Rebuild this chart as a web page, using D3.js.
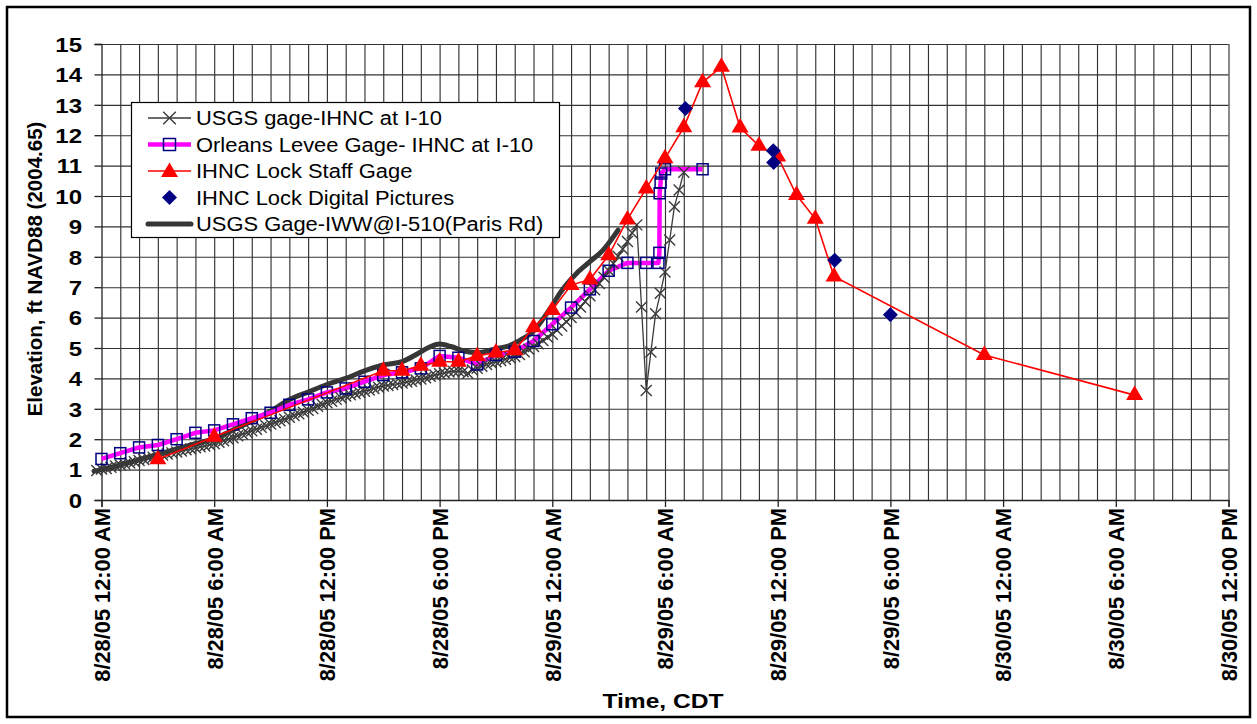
<!DOCTYPE html>
<html>
<head>
<meta charset="utf-8">
<script src="https://cdn.jsdelivr.net/npm/d3@7"></script>
<style>
  html, body { margin: 0; padding: 0; background: #fff; }
  svg { display: block; font-family: "Liberation Sans", Arial, sans-serif; }
</style>
</head>
<body>
<svg id="chart" width="1257" height="724"></svg>
<script>
// ---------------- DATA (hours after 8/28/05 12:00 AM CDT, elevation ft) ----------------
const seriesNames = [
  "USGS gage-IHNC at I-10",
  "Orleans Levee Gage- IHNC at I-10",
  "IHNC Lock Staff Gage",
  "IHNC Lock Digital Pictures",
  "USGS Gage-IWW@I-510(Paris Rd)"
];

const usgsIhnc = [
  [-0.25,0.97],[0,1.02],[0.25,1.04],[0.5,1.08],[0.75,1.12],[1,1.15],[1.25,1.18],[1.5,1.22],[1.75,1.26],
  [2,1.30],[2.25,1.33],[2.5,1.37],[2.75,1.41],[3,1.45],[3.25,1.48],[3.5,1.51],[3.75,1.55],
  [4,1.58],[4.25,1.61],[4.5,1.65],[4.75,1.68],[5,1.72],[5.25,1.75],[5.5,1.78],[5.75,1.82],
  [6,1.85],[6.25,1.90],[6.5,1.95],[6.75,2.00],[7,2.05],[7.25,2.11],[7.5,2.17],[7.75,2.22],
  [8,2.28],[8.25,2.33],[8.5,2.39],[8.75,2.44],[9,2.50],[9.25,2.55],[9.5,2.61],[9.75,2.66],
  [10,2.72],[10.25,2.78],[10.5,2.84],[10.75,2.89],[11,2.95],[11.25,3.01],[11.5,3.08],[11.75,3.14],
  [12,3.20],[12.25,3.25],[12.5,3.31],[12.75,3.36],[13,3.42],[13.25,3.46],[13.5,3.50],[13.75,3.54],
  [14,3.58],[14.25,3.62],[14.5,3.67],[14.75,3.71],[15,3.75],[15.25,3.77],[15.5,3.80],[15.75,3.82],
  [16,3.85],[16.25,3.88],[16.5,3.91],[16.75,3.95],[17,3.98],[17.25,4.02],[17.5,4.07],[17.75,4.11],
  [18,4.15],[18.25,4.18],[18.5,4.21],[18.75,4.23],[19,4.24],[19.25,4.22],[19.5,4.17],[19.75,4.28],
  [20,4.33],[20.25,4.40],[20.5,4.46],[20.75,4.51],[21,4.55],[21.25,4.59],[21.5,4.63],[21.75,4.68],
  [22,4.72],[22.25,4.79],[22.5,4.88],[22.75,4.96],[23,5.05],[23.25,5.14],[23.5,5.25],[23.75,5.35],
  [24,5.45],[24.25,5.58],[24.5,5.72],[24.75,5.86],[25,6.00],[25.25,6.17],[25.5,6.35],[25.75,6.53],
  [26,6.72],[26.25,6.92],[26.5,7.12],[26.75,7.33],[27,7.55],[27.25,7.78],[27.5,8.02],[27.75,8.26],
  [28,8.50],[28.25,8.78],[28.5,9.05],[28.75,6.35],[29,3.60],[29.25,4.87],[29.5,6.13],[29.75,6.80],
  [30,7.50],[30.25,8.55],[30.5,9.65],[30.75,10.20],[31,10.78]
];

const orleansLevee = [
  [0,1.35],[1,1.54],[2,1.73],[3,1.81],[4,2.00],[5,2.21],[6,2.29],[7,2.49],[8,2.69],[9,2.87],
  [10,3.13],[11,3.31],[12,3.54],[13,3.67],[14,3.89],[15,4.11],[16,4.20],[17,4.33],[18,4.74],
  [19,4.68],[20,4.46],[21,4.77],[22,4.88],[23,5.23],[24,5.78],[25,6.33],[26,6.93],[27,7.54],
  [28,7.80],[29,7.80],[29.65,7.80],[29.7,8.13],[29.72,10.09],[29.76,10.44],[29.8,10.74],
  [30,10.88],[32,10.88]
];

const lockStaff = [
  [3,1.34],[6,2.08],[15,4.25],[16,4.25],[17,4.42],[18,4.55],[19,4.55],[20,4.74],[21,4.85],
  [22,4.93],[23,5.68],[24,6.25],[25,7.07],[26,7.25],[27,8.05],[28,9.23],[29,10.25],[30,11.24],
  [31,12.26],[32,13.74],[33,14.25],[34,12.25],[35,11.65],[36,11.30],[37,10.03],[38,9.25],
  [39,7.35],[47,4.77],[55,3.45]
];

const lockPictures = [
  [31.08,12.88],[35.76,11.49],[35.79,11.10],[39.04,7.89],[42,6.09]
];

const iwwParis = [
  [-0.4,0.95],[0,1.00],[1,1.15],[2,1.32],[3,1.50],[4,1.68],[5,1.85],[6,2.02],[7,2.30],[8,2.60],
  [9,2.92],[10,3.30],[11,3.55],[12,3.80],[13,4.00],[14,4.25],[15,4.44],[16,4.55],[16.8,4.80],
  [17.5,5.04],[18,5.13],[18.6,5.05],[19.3,4.90],[20,4.85],[21,4.98],[21.6,5.05],[22.3,5.26],
  [23,5.56],[23.5,5.95],[24,6.40],[24.4,6.80],[25.3,7.46],[26,7.84],[26.7,8.22],[27.5,8.88]
];

const yTicks = [0,1,2,3,4,5,6,7,8,9,10,11,12,13,14,15];
const xTickHours = [0,6,12,18,24,30,36,42,48,54,60];
const xTickLabels = [
  "8/28/05 12:00 AM","8/28/05 6:00 AM","8/28/05 12:00 PM","8/28/05 6:00 PM",
  "8/29/05 12:00 AM","8/29/05 6:00 AM","8/29/05 12:00 PM","8/29/05 6:00 PM",
  "8/30/05 12:00 AM","8/30/05 6:00 AM","8/30/05 12:00 PM"
];
const yTitle = "Elevation, ft NAVD88 (2004.65)";
const xTitle = "Time, CDT";

// ---------------- LAYOUT ----------------
const svg = d3.select("#chart");
const W = 1257, H = 724;
const plot = { left: 101.5, right: 1228.5, top: 44, bottom: 500 };
const start = new Date(2005, 7, 28, 0, 0);
const t = h => d3.timeMinute.offset(start, Math.round(h * 60));

const x = d3.scaleTime().domain([t(0), t(60)]).range([plot.left, plot.right]);
const y = d3.scaleLinear().domain([0, 15]).range([plot.bottom, plot.top]);

const gridColor = "#333";
const FONT = "Liberation Sans, Arial, sans-serif";

// outer frame
svg.append("rect").attr("x", 7).attr("y", 7).attr("width", W - 14).attr("height", H - 14)
  .attr("fill", "#fff").attr("stroke", "#000").attr("stroke-width", 2.5);

// vertical hourly gridlines
const hourTicks = d3.range(1, 61).map(t);
svg.append("g").attr("transform", `translate(0,${plot.top})`)
  .call(d3.axisTop(x).tickValues(hourTicks).tickSize(-(plot.bottom - plot.top)).tickFormat(""))
  .call(g => g.select(".domain").remove())
  .call(g => g.selectAll("line").attr("stroke", gridColor).attr("stroke-width", 1.15));

// horizontal gridlines
svg.append("g").attr("transform", `translate(${plot.left},0)`)
  .call(d3.axisLeft(y).tickValues(yTicks.slice(1)).tickSize(-(plot.right - plot.left)).tickFormat(""))
  .call(g => g.select(".domain").remove())
  .call(g => g.selectAll("line").attr("stroke", gridColor).attr("stroke-width", 1.15));

// y axis
const yAxis = svg.append("g").attr("transform", `translate(${plot.left},0)`)
  .call(d3.axisLeft(y).tickValues(yTicks).tickSize(7).tickFormat(d3.format("d")));
yAxis.select(".domain").attr("stroke", "#222").attr("stroke-width", 1.3);
yAxis.selectAll("line").attr("stroke", "#222").attr("stroke-width", 1.3);
yAxis.selectAll("text")
  .attr("x", 0).attr("dy", "0.36em")
  .attr("transform", "translate(-19.5,0) scale(1.2,1)")
  .attr("text-anchor", "end")
  .attr("font-size", 20).attr("font-weight", "bold").attr("fill", "#000")
  .attr("font-family", FONT);

// x axis
const xAxis = svg.append("g").attr("transform", `translate(0,${plot.bottom})`)
  .call(d3.axisBottom(x).tickValues(xTickHours.map(t)).tickSize(7)
    .tickFormat((d, i) => xTickLabels[i]));
xAxis.select(".domain").attr("stroke", "#222").attr("stroke-width", 1.3);
xAxis.selectAll("line").attr("stroke", "#222").attr("stroke-width", 1.3);
xAxis.selectAll("text")
  .attr("font-size", 21.8).attr("font-weight", "bold").attr("fill", "#000")
  .attr("font-family", FONT)
  .attr("text-anchor", "end")
  .attr("transform", "rotate(-90)")
  .attr("x", -8).attr("y", 0).attr("dy", "0.36em");

// axis titles
svg.append("text").attr("transform", "translate(42,269) rotate(-90)")
  .attr("text-anchor", "middle").attr("font-size", 20.5).attr("font-weight", "bold")
  .attr("font-family", FONT).text(yTitle);
svg.append("text").attr("transform", "translate(663,708) scale(1.2,1)")
  .attr("text-anchor", "middle").attr("font-size", 20.5).attr("font-weight", "bold")
  .attr("font-family", FONT).text(xTitle);

// ---------------- SERIES ----------------
const line = d3.line().x(d => x(t(d[0]))).y(d => y(d[1]));
const smooth = d3.line().x(d => x(t(d[0]))).y(d => y(d[1])).curve(d3.curveMonotoneX);

const xMark = "M-5.5,-5.5L5.5,5.5M-5.5,5.5L5.5,-5.5";
const triMark = "M0,-9.5L8.5,5L-8.5,5Z";
const diaMark = "M0,-7.5L7.5,0L0,7.5L-7.5,0Z";

// IWW thick line
svg.append("path").datum(iwwParis).attr("d", smooth)
  .attr("fill", "none").attr("stroke", "#363636").attr("stroke-width", 5)
  .attr("stroke-linejoin", "round").attr("stroke-linecap", "round");

// Orleans magenta line
svg.append("path").datum(orleansLevee).attr("d", line)
  .attr("fill", "none").attr("stroke", "#ff00ff").attr("stroke-width", 4.5)
  .attr("stroke-linejoin", "round");

// USGS IHNC line with X markers
svg.append("path").datum(usgsIhnc).attr("d", line)
  .attr("fill", "none").attr("stroke", "#3a3a3a").attr("stroke-width", 1.3);
svg.append("g").selectAll("path").data(usgsIhnc).join("path")
  .attr("d", xMark).attr("transform", d => `translate(${x(t(d[0]))},${y(d[1])})`)
  .attr("stroke", "#3a3a3a").attr("stroke-width", 1.4).attr("fill", "none");

// Orleans squares
svg.append("g").selectAll("rect").data(orleansLevee).join("rect")
  .attr("x", d => x(t(d[0])) - 5.5).attr("y", d => y(d[1]) - 5.5)
  .attr("width", 11).attr("height", 11)
  .attr("fill", "none").attr("stroke", "#000080").attr("stroke-width", 1.5);

// Lock staff gage
svg.append("path").datum(lockStaff).attr("d", line)
  .attr("fill", "none").attr("stroke", "#ff0000").attr("stroke-width", 1.6);
svg.append("g").selectAll("path").data(lockStaff).join("path")
  .attr("d", triMark).attr("transform", d => `translate(${x(t(d[0]))},${y(d[1])})`)
  .attr("fill", "#ff0000");

// Lock digital pictures
svg.append("g").selectAll("path").data(lockPictures).join("path")
  .attr("d", diaMark).attr("transform", d => `translate(${x(t(d[0]))},${y(d[1])})`)
  .attr("fill", "#000080");

// ---------------- LEGEND ----------------
const lg = svg.append("g").attr("transform", "translate(131,102)");
lg.append("rect").attr("x", 0.5).attr("y", 0.5).attr("width", 428).attr("height", 135)
  .attr("fill", "#fff").attr("stroke", "#000").attr("stroke-width", 1.2);
const rowY = i => 16 + i * 26.5;
const sx0 = 17, sx1 = 60, sxm = 38.5;
seriesNames.forEach((name, i) => {
  const g = lg.append("g").attr("transform", `translate(0,${rowY(i)})`);
  if (i === 0) {
    g.append("line").attr("x1", sx0).attr("x2", sx1).attr("stroke", "#3a3a3a").attr("stroke-width", 1.3);
    g.append("path").attr("d", xMark).attr("transform", `translate(${sxm},0) scale(1.15)`)
      .attr("stroke", "#3a3a3a").attr("stroke-width", 1.2).attr("fill", "none");
  } else if (i === 1) {
    g.append("line").attr("x1", sx0).attr("x2", sx1).attr("stroke", "#ff00ff").attr("stroke-width", 4.5);
    g.append("rect").attr("x", sxm - 6).attr("y", -6).attr("width", 12).attr("height", 12)
      .attr("fill", "none").attr("stroke", "#000080").attr("stroke-width", 1.5);
  } else if (i === 2) {
    g.append("line").attr("x1", sx0).attr("x2", sx1).attr("stroke", "#ff0000").attr("stroke-width", 1.6);
    g.append("path").attr("d", triMark).attr("transform", `translate(${sxm},1)`).attr("fill", "#ff0000");
  } else if (i === 3) {
    g.append("path").attr("d", diaMark).attr("transform", `translate(${sxm},0)`).attr("fill", "#000080");
  } else {
    g.append("line").attr("x1", sx0).attr("x2", sx1).attr("stroke", "#363636").attr("stroke-width", 5)
      .attr("stroke-linecap", "round");
  }
  g.append("text").attr("transform", "translate(65,0) scale(1.124,1)")
    .attr("dy", "0.36em").attr("font-family", FONT)
    .attr("font-size", 19.5).attr("fill", "#000").text(name);
});
</script>
</body>
</html>
